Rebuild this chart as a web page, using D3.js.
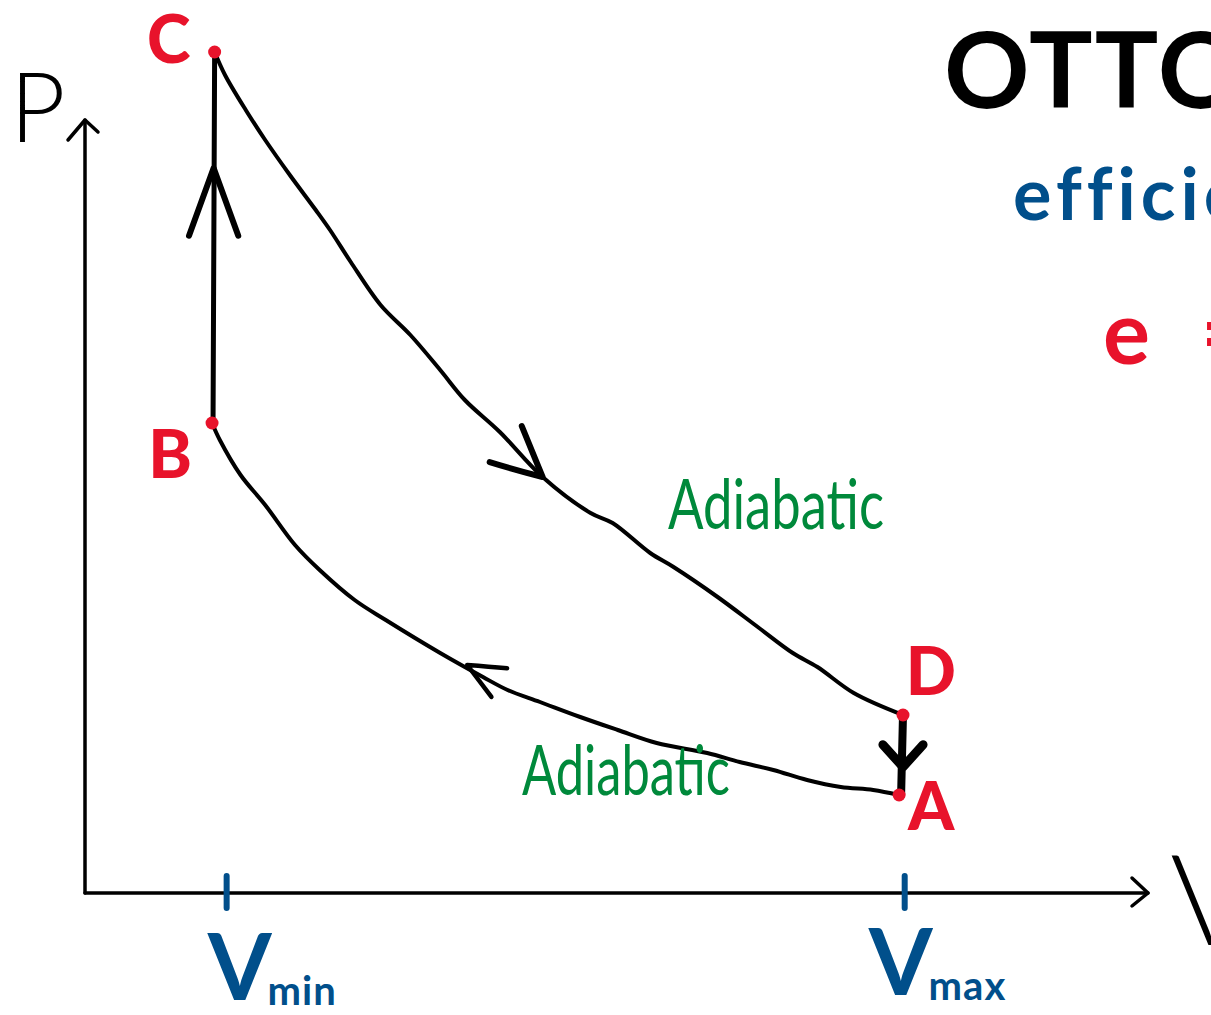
<!DOCTYPE html>
<html>
<head>
<meta charset="utf-8">
<script src="https://cdn.jsdelivr.net/npm/d3@7"></script>
<style>
  html, body { margin: 0; padding: 0; background: #fff; overflow: hidden; }
  text { font-family: Lato, "Open Sans", sans-serif; }
</style>
</head>
<body>
<script>
const width = 1211, height = 1015;

// cycle corners (volume, pressure)
const cornerNames = ['A', 'B', 'C', 'D'];
const cornerV = [6.28, 0.98, 1.00, 6.31];
const cornerP = [0.98, 4.70, 8.41, 1.78];

// C -> D adiabatic expansion
const expansionV = [1.00, 1.08, 1.24, 1.39, 1.58, 1.78, 1.89, 2.05, 2.28, 2.51, 2.74, 2.93, 3.20, 3.53, 3.90, 4.07, 4.36, 4.54, 4.88, 5.19, 5.46, 5.65, 5.93, 6.31];
const expansionP = [8.41, 8.18, 7.83, 7.53, 7.18, 6.83, 6.63, 6.31, 5.88, 5.58, 5.23, 4.93, 4.61, 4.16, 3.80, 3.70, 3.40, 3.26, 2.96, 2.66, 2.40, 2.26, 2.00, 1.78];

// B -> A adiabatic compression (drawn from B side)
const compressionV = [0.98, 1.04, 1.20, 1.39, 1.62, 1.81, 2.08, 2.32, 2.74, 3.07, 3.26, 3.51, 3.82, 4.11, 4.41, 4.80, 5.05, 5.31, 5.57, 5.83, 6.08, 6.28];
const compressionP = [4.70, 4.53, 4.18, 3.88, 3.48, 3.23, 2.93, 2.73, 2.40, 2.16, 2.03, 1.91, 1.76, 1.63, 1.50, 1.40, 1.31, 1.23, 1.13, 1.06, 1.03, 0.98];

// volume marks on the x axis
const tickV = [1.0, 6.3];
const tickNames = ['min', 'max'];

const vAxisEnd = 8.2, pAxisEnd = 7.73;

const red = '#e8132b', blue = '#014f8b', green = '#00893b';

const x = d3.scaleLinear().domain([0, vAxisEnd]).range([85, 1148]);
const y = d3.scaleLinear().domain([0, 8.5]).range([893, 43]);

const svg = d3.select('body').append('svg')
  .attr('width', width).attr('height', height);

function at(sel, attrs){
  Object.entries(attrs).forEach(([k, v]) => sel.attr(k, v));
  return sel;
}

const ink = {fill: 'none', stroke: '#000', 'stroke-linecap': 'round', 'stroke-linejoin': 'round'};

// axes
at(svg.append('line'), {...ink, x1: x(0), y1: y(0), x2: x(0), y2: y(pAxisEnd), 'stroke-width': 3.5});
at(svg.append('line'), {...ink, x1: x(0), y1: y(0), x2: x(vAxisEnd), y2: y(0), 'stroke-width': 3.5});
at(svg.append('path'), {...ink, 'stroke-width': 3.5,
  d: `M${x(0)-17},${y(pAxisEnd)+20} L${x(0)},${y(pAxisEnd)} L${x(0)+13},${y(pAxisEnd)+12}`});
at(svg.append('path'), {...ink, 'stroke-width': 3.5,
  d: `M${x(vAxisEnd)-16},${y(0)-15} L${x(vAxisEnd)},${y(0)} L${x(vAxisEnd)-16},${y(0)+13}`});

at(svg.append('text'), {x: 10, y: 142, 'font-size': 96, 'font-weight': 300, fill: '#000'}).text('P');
at(svg.append('text'), {x: 1170, y: 945, 'font-size': 126, 'font-weight': 300, fill: '#000'}).text('V');

// Vmin / Vmax ticks
const ticks = svg.append('g').selectAll('g').data(tickV).join('g')
  .attr('transform', d => `translate(${x(d)},${y(0)})`);
ticks.append('line').attr('x1', (d,i) => i ? 3 : 12).attr('x2', (d,i) => i ? 3 : 12)
  .attr('y1', -17).attr('y2', 15)
  .attr('stroke', blue).attr('stroke-width', 6).attr('stroke-linecap', 'round');
const tickText = ticks.append('text')
  .attr('x', (d,i) => i ? -33 : -7).attr('y', (d,i) => i ? 102 : 107)
  .attr('fill', blue).attr('font-weight', 700);
tickText.append('tspan').attr('font-size', 92).text('V');
tickText.append('tspan').attr('font-size', 40).attr('dx', -4).attr('dy', 5)
  .attr('letter-spacing', 1).text((d,i) => tickNames[i]);

// curves
const line = d3.line().x(d => x(d[0])).y(d => y(d[1])).curve(d3.curveCatmullRom);
const expansion = d3.zip(expansionV, expansionP);
const compression = d3.zip(compressionV, compressionP);

at(svg.append('path').datum(expansion), {...ink, 'stroke-width': 4, d: line});
at(svg.append('path').datum(compression), {...ink, 'stroke-width': 4, d: line});

const corners = cornerNames.map((n, i) => ({name: n, v: cornerV[i], p: cornerP[i]}));
const cA = corners[0], cB = corners[1], cC = corners[2], cD = corners[3];

// isochoric legs
at(svg.append('line'), {...ink, x1: x(cB.v)+1, y1: y(cB.p), x2: x(cC.v), y2: y(cC.p), 'stroke-width': 5});
at(svg.append('line'), {...ink, x1: x(cD.v), y1: y(cD.p), x2: x(cA.v)+2, y2: y(cA.p), 'stroke-width': 8});

// arrow heads: tip, direction of travel (deg), wing length, spread, width
function arrowHead(px, py, dir, len, spread, w){
  const back = (dir + 180) * Math.PI / 180;
  const s = spread * Math.PI / 180;
  const w1 = [px + len*Math.cos(back - s), py + len*Math.sin(back - s)];
  const w2 = [px + len*Math.cos(back + s), py + len*Math.sin(back + s)];
  at(svg.append('path'), {...ink, 'stroke-width': w,
    d: `M${w1[0]},${w1[1]} Q${(w1[0]+px)/2 + 3*Math.cos(back)},${(w1[1]+py)/2} ${px},${py} Q${(w2[0]+px)/2},${(w2[1]+py)/2} ${w2[0]},${w2[1]}`});
}
function tangent(pts, i){
  const a = pts[i-1], b = pts[i+1];
  return Math.atan2(y(b[1]) - y(a[1]), x(b[0]) - x(a[0])) * 180 / Math.PI;
}
arrowHead(x(expansion[13][0]), y(expansion[13][1]), tangent(expansion, 13), 55, 26, 6);
arrowHead(x(compression[8][0]) + 27, y(compression[8][1]) + 12, tangent(compression, 9) + 180, 40, 24, 4.5);
arrowHead(x(cC.v) - 1, y(7.25), -90, 72, 20, 6);
arrowHead(x(cD.v), y(1.26), 90, 30, 42, 9);

// corner dots and labels
const labelOffset = {A: [32, 35], B: [-42, 55], C: [-46, 11], D: [28, -20]};
svg.append('g').selectAll('circle').data(corners).join('circle')
  .attr('cx', d => x(d.v)).attr('cy', d => y(d.p)).attr('r', 6.5).attr('fill', red);
svg.append('g').selectAll('text').data(corners).join('text')
  .attr('x', d => x(d.v) + labelOffset[d.name][0])
  .attr('y', d => y(d.p) + labelOffset[d.name][1])
  .attr('text-anchor', 'middle').attr('font-size', 66).attr('font-weight', 900)
  .attr('fill', red).text(d => d.name);

// process labels
at(svg.append('text'), {x: 668, y: 529, 'font-size': 70, fill: green, textLength: 216, lengthAdjust: 'spacingAndGlyphs'}).text('Adiabatic');
at(svg.append('text'), {x: 522, y: 795, 'font-size': 70, fill: green, textLength: 208, lengthAdjust: 'spacingAndGlyphs'}).text('Adiabatic');

// title block on the right (runs off the page like the sketch)
at(svg.append('text'), {x: 944, y: 108, 'font-size': 106, 'font-weight': 700, fill: '#000', 'letter-spacing': 2}).text('OTTO');
at(svg.append('text'), {x: 1013, y: 220, 'font-size': 72, 'font-weight': 700, fill: blue, 'letter-spacing': 5}).text('efficiency');
const eq = at(svg.append('text'), {y: 364, 'font-size': 88, 'font-weight': 700, fill: red});
eq.append('tspan').attr('x', 1103).text('e');
eq.append('tspan').attr('x', 1201).text('=');
</script>
</body>
</html>
